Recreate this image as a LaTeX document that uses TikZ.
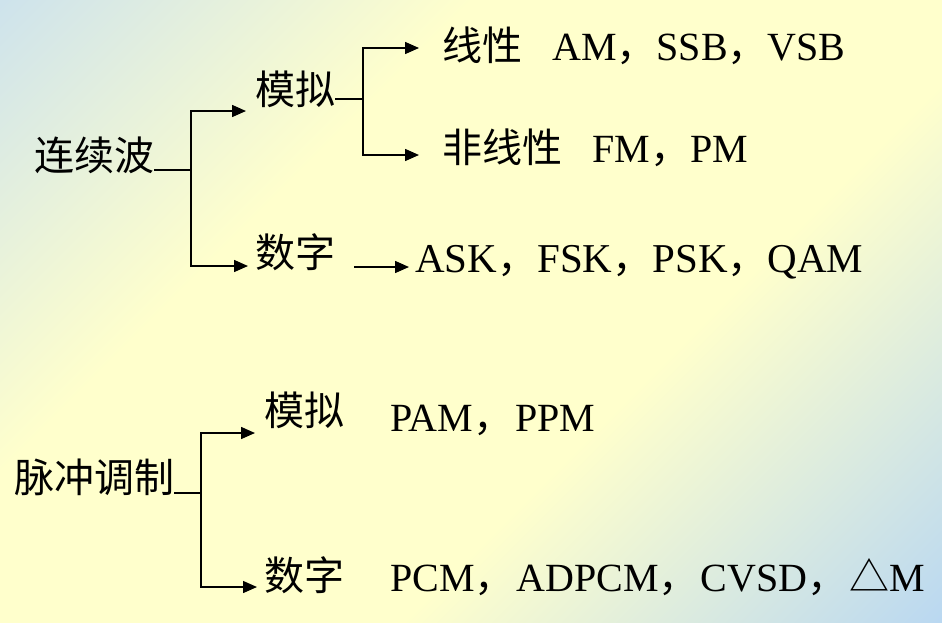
\documentclass[tikz,border=0pt]{standalone}
\usepackage{fontspec}
\setmainfont{Liberation Serif}
\newfontfamily\cjkfont{Noto Sans CJK SC}
\usetikzlibrary{arrows.meta}
\definecolor{bgA}{RGB}{206,227,236}
\definecolor{bgY}{RGB}{255,255,204}
\definecolor{bgB}{RGB}{186,216,241}
\pgfdeclareverticalshading{bgshade}{100bp}{color(0bp)=(bgB); color(14.6bp)=(bgB); color(39bp)=(bgY); color(64bp)=(bgY); color(85.4bp)=(bgA); color(100bp)=(bgA)}
\newcommand\zh[1]{{\cjkfont\fontsize{40pt}{46pt}\selectfont #1}}
\newcommand\zc{\zh{，}}
\newcommand\zcw{\zh{，}\hspace{2pt}}
\begin{document}
\begin{tikzpicture}[x=1pt,y=-1pt,
  txt/.style={inner sep=0pt, anchor=base west, font=\fontsize{40pt}{46pt}\selectfont},
  conn/.style={line width=1.5pt},
  arr/.style={conn, -{Triangle[length=14pt,width=12pt]}}]
\shade[shading=bgshade, shading angle=45] (0,0) rectangle (942,622);
\useasboundingbox (0,0) rectangle (942,622);
% texts
\node[txt] (lxb) at (34,170) {\zh{连续波}};
\node[txt] (mn1) at (255,104) {\zh{模拟}};
\node[txt] (sz1) at (255,267) {\zh{数字}};
\node[txt] (xx) at (442,60) {\zh{线性}\hspace{30pt}AM\zc SSB\zc VSB};
\node[txt] (fxx) at (442,162) {\zh{非线性}\hspace{30pt}FM\zc PM};
\node[txt, font=\fontsize{41pt}{46pt}\selectfont] (ask) at (415,272) {ASK\zc FSK\zc PSK\zc QAM};
\node[txt] (mc) at (14,492) {\zh{脉冲调制}};
\node[txt] (mn2) at (264,425) {\zh{模拟}};
\node[txt] (sz2) at (264,590) {\zh{数字}};
\node[txt] (pam) at (390,431) {PAM\zcw PPM};
\node[txt] (pcm) at (390,591) {PCM\zcw ADPCM\zcw CVSD\zcw \zh{△}M};
% junctions and arrow ends
\coordinate (j1) at (191,170);
\coordinate (e1a) at (246,111);
\coordinate (e1b) at (248,266);
\coordinate (j2) at (363,99);
\coordinate (e2a) at (419,48);
\coordinate (e2b) at (419,155);
\coordinate (s3) at (354,267);
\coordinate (e3) at (409,267);
\coordinate (j4) at (201,493);
\coordinate (e4a) at (255,433);
\coordinate (e4b) at (257,587);
% connectors
\draw[conn] (lxb.east |- j1) -- (j1);
\draw[arr] (j1) |- (e1a);
\draw[arr] (j1) |- (e1b);
\draw[conn] (mn1.east |- j2) -- (j2);
\draw[arr] (j2) |- (e2a);
\draw[arr] (j2) |- (e2b);
\draw[arr] (s3) -- (e3);
\draw[conn] (mc.east |- j4) -- (j4);
\draw[arr] (j4) |- (e4a);
\draw[arr] (j4) |- (e4b);
\end{tikzpicture}
\end{document}
